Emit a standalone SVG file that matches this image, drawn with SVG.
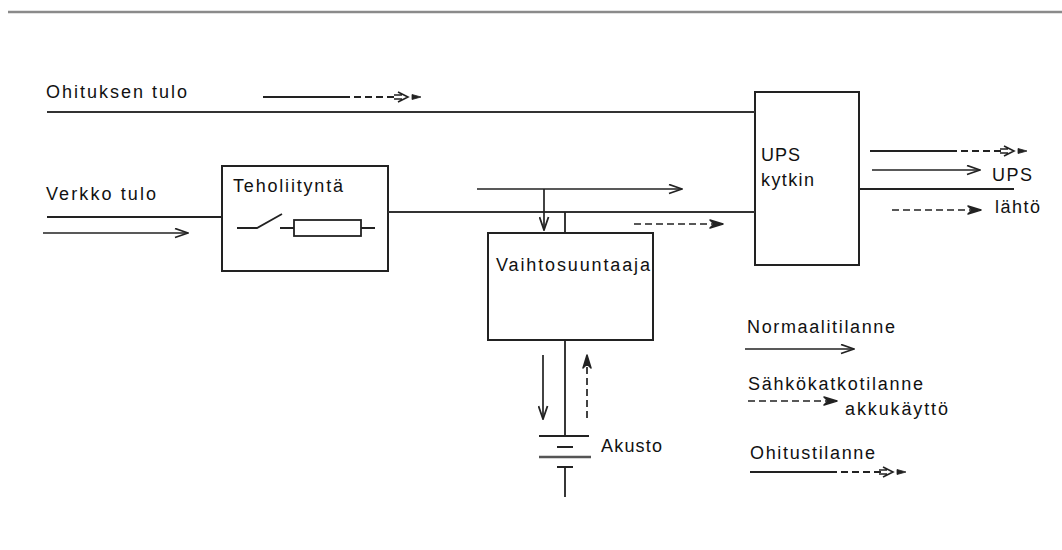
<svg xmlns="http://www.w3.org/2000/svg" xmlns:xlink="http://www.w3.org/1999/xlink" width="1062" height="550" viewBox="0 0 1062 550">
<style>
  text { font-family: "Liberation Sans", "DejaVu Sans", sans-serif; font-size: 18px; fill: #111; }
  .box { fill: none; stroke: #222; stroke-width: 2; }
  .ln { fill: none; stroke: #222; stroke-width: 1.8; }
  .wire { fill: none; stroke: #333; stroke-width: 2.2; }
  .dash { fill: none; stroke: #222; stroke-width: 1.8; stroke-dasharray: 7 4; }
  .arr { fill: none; stroke: #222; stroke-width: 1.7; marker-end: url(#open); }
  .darr { fill: none; stroke: #222; stroke-width: 1.7; stroke-dasharray: 7 4; marker-end: url(#bold); }
</style>
<defs>
  <marker id="open" viewBox="0 0 15 11" refX="14" refY="5.5" markerWidth="15" markerHeight="11" markerUnits="userSpaceOnUse" orient="auto">
    <path d="M1,1 L14,5.5 L1,10" fill="none" stroke="#222" stroke-width="1.8"/>
  </marker>
  <marker id="bold" viewBox="0 0 15 11" refX="14" refY="5.5" markerWidth="15" markerHeight="11" markerUnits="userSpaceOnUse" orient="auto">
    <path d="M1,1.5 L14,5.5 L1,9.5 L5,5.5 Z" fill="#222" stroke="#222" stroke-width="1.5" stroke-linejoin="round"/>
  </marker>
  <g id="mixhead">
    <path d="M-4,-2 H4 M-4,2 H4 M0,-5 L10,0 L0,5" fill="none" stroke="#222" stroke-width="1.6"/>
    <path d="M14,-2.5 L23,0 L14,2.5 Z" fill="#222" stroke="#222" stroke-width="0.8"/>
  </g>
</defs>

<line x1="8" y1="12" x2="1062" y2="12" stroke="#8a8a8a" stroke-width="2.5"/>

<g id="bypass-input">
  <text x="46" y="98" textLength="141" lengthAdjust="spacing">Ohituksen tulo</text>
</g>
<g id="mains-input">
  <text x="46" y="200" textLength="110" lengthAdjust="spacing">Verkko tulo</text>
</g>

<g id="teholiityntä">
  <rect class="box" x="222" y="166" width="166" height="105"/>
  <text x="233" y="192" textLength="110" lengthAdjust="spacing">Teholiityntä</text>
  <path class="ln" d="M237,228 H257 L282,214 M280,228 H294 M361,228 H375"/>
  <rect class="ln" x="294" y="220" width="67" height="16"/>
</g>

<g id="vaihtosuuntaaja">
  <rect class="box" x="488" y="233" width="165" height="107"/>
  <text x="496" y="271" textLength="154" lengthAdjust="spacing">Vaihtosuuntaaja</text>
</g>

<g id="ups-kytkin">
  <rect class="box" x="755" y="92" width="104" height="173"/>
  <text x="761" y="161" textLength="39" lengthAdjust="spacing">UPS</text>
  <text x="761" y="186" textLength="53" lengthAdjust="spacing">kytkin</text>
</g>

<g id="akusto">
  <path class="ln" d="M539,436 H589 M557,447 H573 M557,467 H573 M565,467 V497"/>
  <path d="M539,457 H591" stroke="#555" stroke-width="2.6" fill="none"/>
  <text x="601" y="452" textLength="61" lengthAdjust="spacing">Akusto</text>
</g>

<g id="ups-output">
  <text x="992" y="181" textLength="40" lengthAdjust="spacing">UPS</text>
  <text x="995" y="213" textLength="45" lengthAdjust="spacing">lähtö</text>
</g>

<g id="connectors">
  <line class="wire" x1="47" y1="112" x2="755" y2="112"/>
  <line class="ln" x1="47" y1="217" x2="222" y2="217"/>
  <line class="wire" x1="388" y1="212" x2="755" y2="212"/>
  <line class="ln" x1="565" y1="212" x2="565" y2="233"/>
  <line class="ln" x1="565" y1="340" x2="565" y2="436"/>
  <line class="ln" x1="859" y1="189" x2="1014" y2="189"/>
</g>

<g id="flow-arrows">
  <line class="ln" x1="263" y1="97" x2="343" y2="97"/>
  <line class="dash" x1="343" y1="97" x2="396" y2="97"/>
  <use xlink:href="#mixhead" x="398" y="97"/>

  <line class="arr" x1="43" y1="233" x2="188" y2="233"/>
  <line class="arr" x1="477" y1="189" x2="682" y2="189"/>
  <line class="arr" x1="544" y1="189" x2="544" y2="230"/>
  <line class="darr" x1="634" y1="224" x2="723" y2="224"/>

  <line class="arr" x1="543" y1="355" x2="543" y2="419"/>
  <line class="darr" x1="587" y1="418" x2="587" y2="355"/>

  <line class="ln" x1="870" y1="151" x2="950" y2="151"/>
  <line class="dash" x1="950" y1="151" x2="1002" y2="151"/>
  <use xlink:href="#mixhead" x="1004" y="151"/>
  <line class="arr" x1="872" y1="170" x2="980" y2="170"/>
  <line class="darr" x1="892" y1="210" x2="981" y2="210"/>
</g>

<g id="legend">
  <text x="747" y="333" textLength="148" lengthAdjust="spacing">Normaalitilanne</text>
  <line class="arr" x1="745" y1="349" x2="854" y2="349"/>
  <text x="748" y="390" textLength="175" lengthAdjust="spacing">Sähkökatkotilanne</text>
  <line class="darr" x1="748" y1="401" x2="837" y2="401"/>
  <text x="845" y="415" textLength="103" lengthAdjust="spacing">akkukäyttö</text>
  <text x="750" y="459" textLength="125" lengthAdjust="spacing">Ohitustilanne</text>
  <line class="ln" x1="750" y1="472" x2="830" y2="472"/>
  <line class="dash" x1="830" y1="472" x2="881" y2="472"/>
  <use xlink:href="#mixhead" x="883" y="472"/>
</g>
</svg>
